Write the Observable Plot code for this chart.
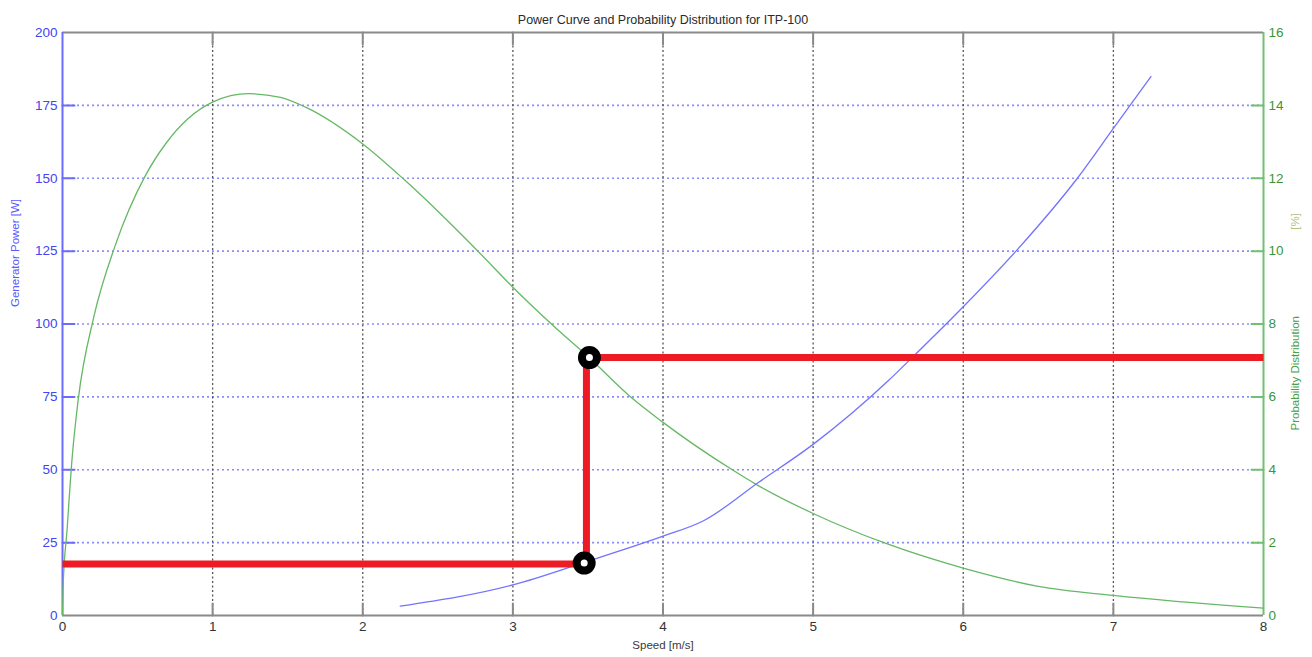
<!DOCTYPE html>
<html><head><meta charset="utf-8">
<script src="https://cdn.jsdelivr.net/npm/d3@7"></script>
<script src="https://cdn.jsdelivr.net/npm/@observablehq/plot@0.6"></script>
<style>body{margin:0;background:#fff;overflow:hidden}</style>
</head><body><div id="chart"></div>
<script>
// ---- data ----
const title = "Power Curve and Probability Distribution for ITP-100";
const xLabel = "Speed [m/s]";
const leftLabel = "Generator Power [W]";
const rightLabel = "Probability Distribution";
const rightUnit = "[%]";

const xTicks = [0, 1, 2, 3, 4, 5, 6, 7, 8];
const leftTicks = [0, 25, 50, 75, 100, 125, 150, 175, 200];
const rightTicks = [0, 2, 4, 6, 8, 10, 12, 14, 16];

// power curve (left axis, W)
const speedPower = [2.25, 3.0, 3.48, 4.0, 4.27, 4.64, 5.0, 5.5, 5.66, 6.0, 6.36, 6.76, 7.0, 7.25];
const power      = [3.2, 10.5, 18.3, 27.2, 32.5, 45.8, 58.7, 80.5, 88.5, 105.9, 125.5, 150, 167.1, 184.9];

// probability distribution (right axis, %)
const speedProb = [0, 0.003, 0.031, 0.064, 0.104, 0.209, 0.349, 0.553, 0.686, 1.0, 1.241, 1.452, 1.619, 2.0, 2.274, 2.774, 3.0, 3.262, 3.507, 3.795, 4.0, 4.48, 4.62, 5.0, 5.49, 6.0, 6.5, 7.0, 8.0];
const prob      = [0, 0.7, 2.38, 4.32, 5.9, 8.2, 10.13, 12.08, 12.94, 14.09, 14.32, 14.22, 13.95, 12.94, 11.97, 9.97, 9.01, 7.98, 7.08, 5.96, 5.3, 3.95, 3.6, 2.8, 1.97, 1.3, 0.8, 0.55, 0.2];

// operating point construction (red path, left-axis units)
const redSpeed = [0, 3.49, 3.49, 8];
const redPower = [17.7, 17.7, 88.5, 88.5];
const markerSpeed = [3.475, 3.51];
const markerPower = [18, 88.5];

// ---- build ----
const k = leftTicks[leftTicks.length - 1] / rightTicks[rightTicks.length - 1]; // right -> left scale factor
const powerData = speedPower.map((s, i) => ({s, v: power[i]}));
const probData = speedProb.map((s, i) => ({s, v: prob[i] * k}));
const redData = redSpeed.map((s, i) => ({s, v: redPower[i]}));
const markerData = markerSpeed.map((s, i) => ({s, v: markerPower[i]}));
const inner = (a) => a.slice(1, -1);
const lineShape = {draw(ctx, l) { ctx.moveTo(0, 0); ctx.lineTo(0, -l); }};

const BLUE = "#6b6bff", GREEN = "#72c072", GRAY = "#8a8a8a";

const chart = Plot.plot({
  width: 1312, height: 657,
  marginLeft: 62, marginRight: 49, marginTop: 32, marginBottom: 42,
  style: {fontFamily: "'Liberation Sans', Arial, sans-serif", fontSize: "13px", background: "#fff"},
  x: {domain: [xTicks[0], xTicks[xTicks.length - 1]]},
  y: {domain: [leftTicks[0], leftTicks[leftTicks.length - 1]]},
  marks: [
    Plot.gridY(inner(leftTicks), {stroke: "#8c8cff", strokeOpacity: 1, strokeWidth: 1.6, strokeDasharray: "2,3"}),
    Plot.gridX(inner(xTicks), {stroke: "#444", strokeOpacity: 0.9, strokeWidth: 1.3, strokeDasharray: "2,2.5"}),
    // frame
    Plot.ruleY([leftTicks[0], leftTicks[leftTicks.length - 1]], {stroke: GRAY, strokeWidth: 2}),
    Plot.ruleX([xTicks[0]], {stroke: BLUE, strokeWidth: 2}),
    Plot.ruleX([xTicks[xTicks.length - 1]], {stroke: GREEN, strokeWidth: 2}),
    // inward ticks
    Plot.vector(inner(xTicks), {x: d => d, y: leftTicks[0], length: 12, rotate: 0, anchor: "start", shape: lineShape, stroke: GRAY, strokeWidth: 2}),
    Plot.vector(inner(xTicks), {x: d => d, y: leftTicks[leftTicks.length - 1], length: 12, rotate: 180, anchor: "start", shape: lineShape, stroke: GRAY, strokeWidth: 2}),
    Plot.vector(inner(leftTicks), {x: xTicks[0], y: d => d, length: 12, rotate: 90, anchor: "start", shape: lineShape, stroke: BLUE, strokeWidth: 2}),
    Plot.vector(inner(leftTicks), {x: xTicks[xTicks.length - 1], y: d => d, length: 12, rotate: 270, anchor: "start", shape: lineShape, stroke: GREEN, strokeWidth: 2}),
    // curves
    Plot.line(probData, {x: "s", y: "v", stroke: "#66b866", strokeWidth: 1.3, curve: "monotone-x"}),
    Plot.line(powerData, {x: "s", y: "v", stroke: "#7373ff", strokeWidth: 1.3, curve: "monotone-x"}),
    // operating point construction
    Plot.line(redData, {x: "s", y: "v", stroke: "#ed1c24", strokeWidth: 7, strokeLinejoin: "miter", strokeLinecap: "butt"}),
    Plot.dot(markerData, {x: "s", y: "v", r: 7.5, fill: "#fff", stroke: "#000", strokeWidth: 8}),
    // axes text
    Plot.axisX({ticks: xTicks, tickSize: 0, tickPadding: 6, label: null, fill: "#333", fontSize: 13.5}),
    Plot.axisY({ticks: leftTicks, tickSize: 0, tickPadding: 5, label: null, fill: "#4444f0", fontSize: 13.5}),
    Plot.axisY({ticks: leftTicks, anchor: "right", tickSize: 0, tickPadding: 5, label: null, fill: "#3a963a", fontSize: 13.5, tickFormat: d => d / k}),
    // titles
    Plot.text([title], {frameAnchor: "top", dy: -17, fill: "#2a2a2a", fontSize: 12.5}),
    Plot.text([xLabel], {frameAnchor: "bottom", dy: 33, fill: "#3a3a3a", fontSize: 11.5}),
    Plot.text([leftLabel], {frameAnchor: "left", dx: -47, dy: -17, rotate: -90, fill: "#5a5aff", fontSize: 11.5}),
    Plot.text([rightLabel], {frameAnchor: "right", dx: 32, dy: -8, rotate: -90, fill: "#4aa04a", fontSize: 11.5}),
    Plot.text([rightUnit], {frameAnchor: "right", dx: 32, dy: -111, rotate: -90, fill: "#aec47e", fontSize: 11.5})
  ]
});
document.getElementById("chart").appendChild(chart);
</script>
</body></html>
